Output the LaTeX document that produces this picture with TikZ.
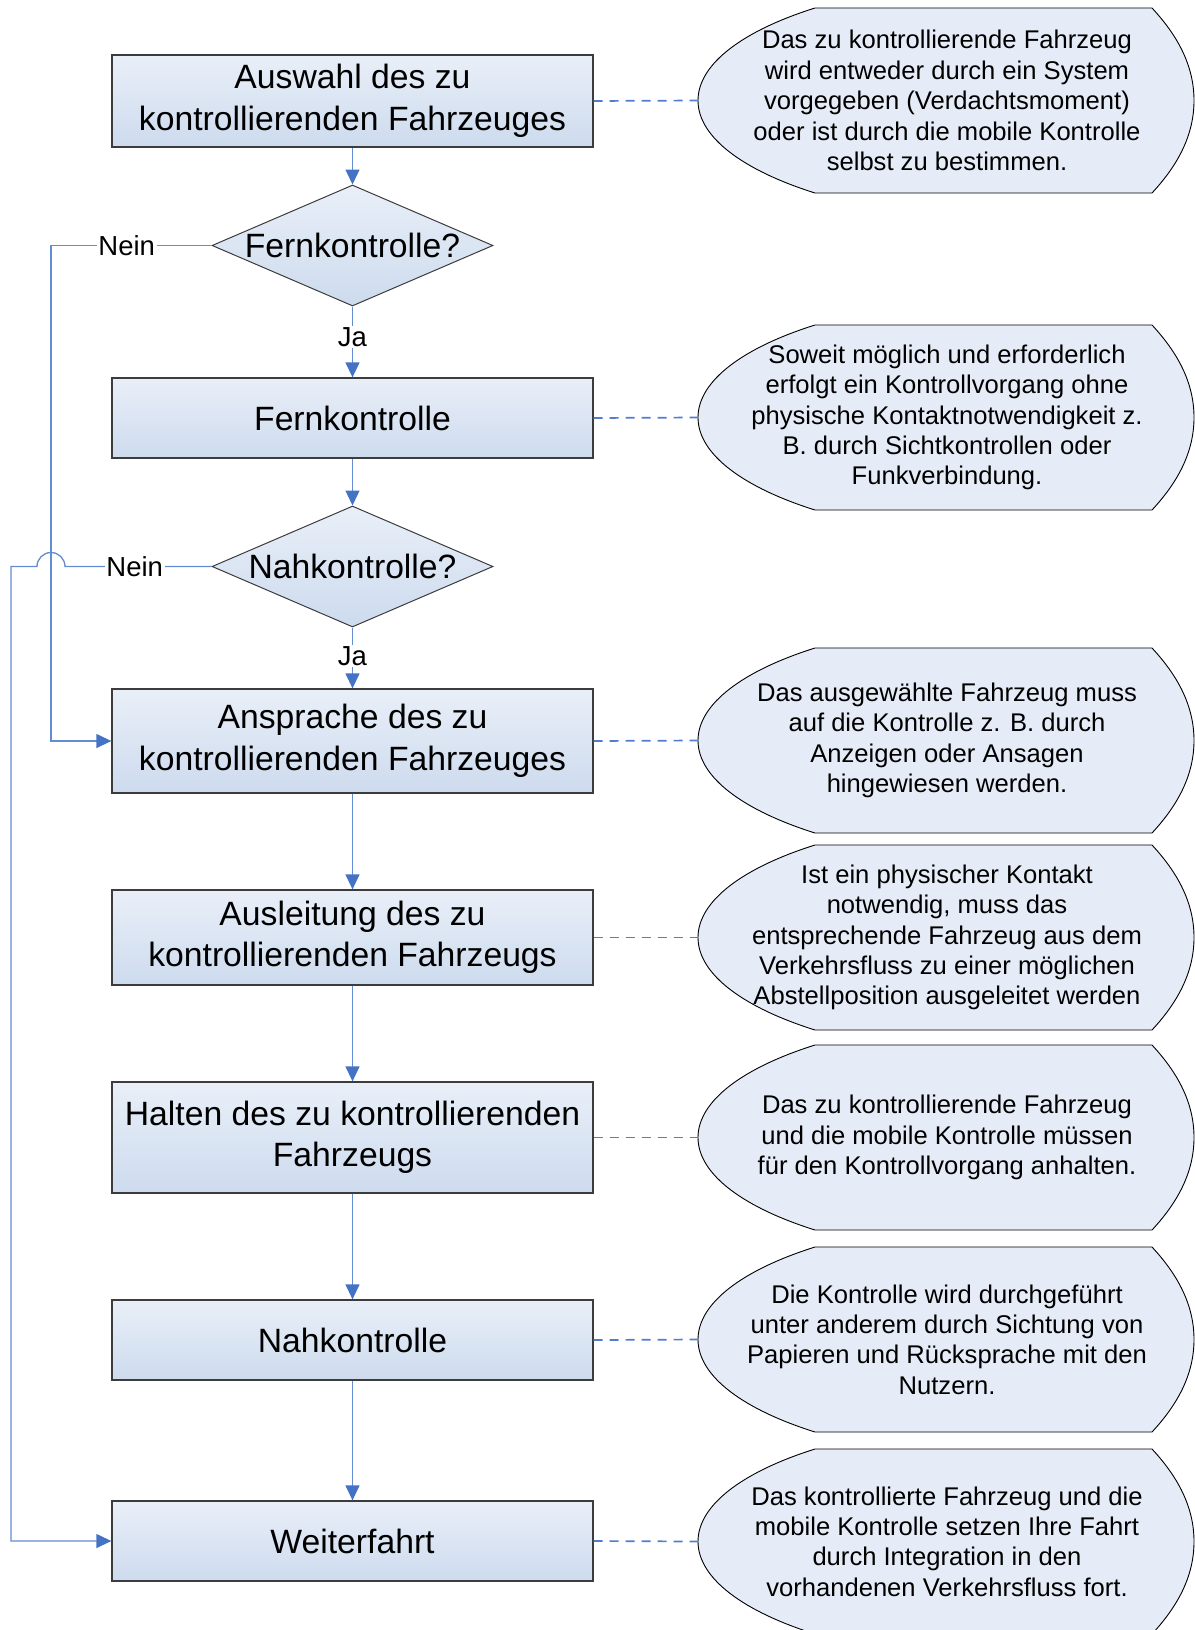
\documentclass[tikz,border=0pt]{standalone}
\usepackage{fontspec}
\setmainfont{Liberation Sans}
\usetikzlibrary{shapes.geometric,arrows.meta}
\definecolor{connblue}{RGB}{100,140,210}
\definecolor{dashblue}{RGB}{80,125,205}
\definecolor{tipc}{RGB}{68,114,196}
\definecolor{boxtop}{RGB}{233,239,248}
\definecolor{boxbot}{RGB}{205,219,238}
\definecolor{callfill}{RGB}{230,236,247}
\definecolor{boxline}{RGB}{60,60,60}
\tikzset{
 flowbox/.style={draw=boxline, line width=1.3pt, top color=boxtop, bottom color=boxbot,
   minimum width=481pt, align=center, inner sep=0pt, font=\fontsize{33.7}{41.5}\selectfont},
 decision/.style={diamond, draw=boxline, line width=1pt, top color=boxtop, bottom color=boxbot,
   minimum width=281pt, minimum height=121pt, inner sep=0pt},
 dtext/.style={font=\fontsize{33.7}{41.5}\selectfont, inner sep=0pt},
 link/.style={draw=connblue, line width=1.3pt},
 arr/.style={-{Triangle[length=15pt,width=14pt,color=tipc]}},
 dashlink/.style={draw=dashblue, line width=1.7pt, dash pattern=on 9pt off 7pt},
 lbl/.style={fill=white, inner sep=1.5pt, font=\fontsize{27.5}{30}\selectfont},
 calltext/.style={align=center, font=\fontsize{25.6}{30.4}\selectfont, inner sep=0pt},
 callshape/.style={fill=callfill, draw=black, line width=0.9pt}
}
\newcommand\drawcallout[3]{%
 \filldraw[callshape] (815,#2) -- (1152,#2)
   .. controls (1178,#2+28) and (1194,#2+58) .. (1194,#2+92.5)
   .. controls (1194,#2+127) and (1178,#2+157) .. (1152,#2+185)
   -- (815,#2+185)
   .. controls (745,#2+163) and (698,#2+130) .. (698,#2+92.5)
   .. controls (698,#2+55) and (745,#2+22) .. (815,#2) -- cycle;
 \coordinate (#1w) at (698,#2+92.5);
 \node[calltext] (#1) at (947,#2+92.5) {#3};
}
\begin{document}
\begin{tikzpicture}[x=1pt,y=-1pt]
\useasboundingbox (0,0) rectangle (1194,1630);

% callouts
\drawcallout{c1}{8}{Das zu kontrollierende Fahrzeug\\wird entweder durch ein System\\vorgegeben (Verdachtsmoment)\\oder ist durch die mobile Kontrolle\\selbst zu bestimmen.}
\drawcallout{c2}{325}{Soweit möglich und erforderlich\\erfolgt ein Kontrollvorgang ohne\\physische Kontaktnotwendigkeit z.\\B. durch Sichtkontrollen oder\\Funkverbindung.}
\drawcallout{c3}{648}{Das ausgewählte Fahrzeug muss\\auf die Kontrolle z. B. durch\\Anzeigen oder Ansagen\\hingewiesen werden.}
\drawcallout{c4}{845}{Ist ein physischer Kontakt\\notwendig, muss das\\entsprechende Fahrzeug aus dem\\Verkehrsfluss zu einer möglichen\\Abstellposition ausgeleitet werden}
\drawcallout{c5}{1045}{Das zu kontrollierende Fahrzeug\\und die mobile Kontrolle müssen\\für den Kontrollvorgang anhalten.}
\drawcallout{c6}{1247}{Die Kontrolle wird durchgeführt\\unter anderem durch Sichtung von\\Papieren und Rücksprache mit den\\Nutzern.}
\drawcallout{c7}{1449}{Das kontrollierte Fahrzeug und die\\mobile Kontrolle setzen Ihre Fahrt\\durch Integration in den\\vorhandenen Verkehrsfluss fort.}

% flow nodes
\node[flowbox, minimum height=92pt] (b1) at (352.5,101) {Auswahl des zu\\kontrollierenden Fahrzeuges};
\node[decision] (d1) at (352.5,245.5) {};
\node[dtext] (d1t) at (d1.center) {Fernkontrolle?};
\node[flowbox, minimum height=80pt] (b2) at (352.5,418) {Fernkontrolle};
\node[decision] (d2) at (352.5,566.5) {};
\node[dtext] (d2t) at (d2.center) {Nahkontrolle?};
\node[flowbox, minimum height=104pt] (b3) at (352.5,741) {Ansprache des zu\\kontrollierenden Fahrzeuges};
\node[flowbox, minimum height=95pt] (b4) at (352.5,937.5) {Ausleitung des zu\\kontrollierenden Fahrzeugs};
\node[flowbox, minimum height=111pt] (b5) at (352.5,1137.5) {Halten des zu kontrollierenden\\Fahrzeugs};
\node[flowbox, minimum height=80pt] (b6) at (352.5,1340) {Nahkontrolle};
\node[flowbox, minimum height=80pt] (b7) at (352.5,1541) {Weiterfahrt};

% main vertical flow
\draw[link,arr] (b1.south) -- (d1.north);
\draw[link,arr] (d1.south) -- node[lbl,pos=0.43]{Ja} (b2.north);
\draw[link,arr] (b2.south) -- (d2.north);
\draw[link,arr] (d2.south) -- node[lbl,pos=0.47]{Ja} (b3.north);
\draw[link,arr] (b3.south) -- (b4.north);
\draw[link,arr] (b4.south) -- (b5.north);
\draw[link,arr] (b5.south) -- (b6.north);
\draw[link,arr] (b6.south) -- (b7.north);

% Nein loops
\coordinate (k1) at (51,245.5);
\draw[link,arr] (d1.west) -- node[lbl,pos=0.528]{Nein} (k1) |- (b3.west);
\coordinate (h2) at (65,566.5);
\coordinate (k2) at (11,566.5);
\draw[link,arr] (d2.west) -- node[lbl,pos=0.524]{Nein} (h2)
   arc[start angle=0,end angle=180,radius=14pt] -- (k2) |- (b7.west);

% dashed links to callouts
\draw[dashlink] (b1.east) -- (c1w);
\draw[dashlink] (b2.east) -- (c2w);
\draw[dashlink] (b3.east) -- (c3w);
\draw[dashlink] (b4.east) -- (c4w);
\draw[dashlink] (b5.east) -- (c5w);
\draw[dashlink] (b6.east) -- (c6w);
\draw[dashlink] (b7.east) -- (c7w);
\end{tikzpicture}
\end{document}
